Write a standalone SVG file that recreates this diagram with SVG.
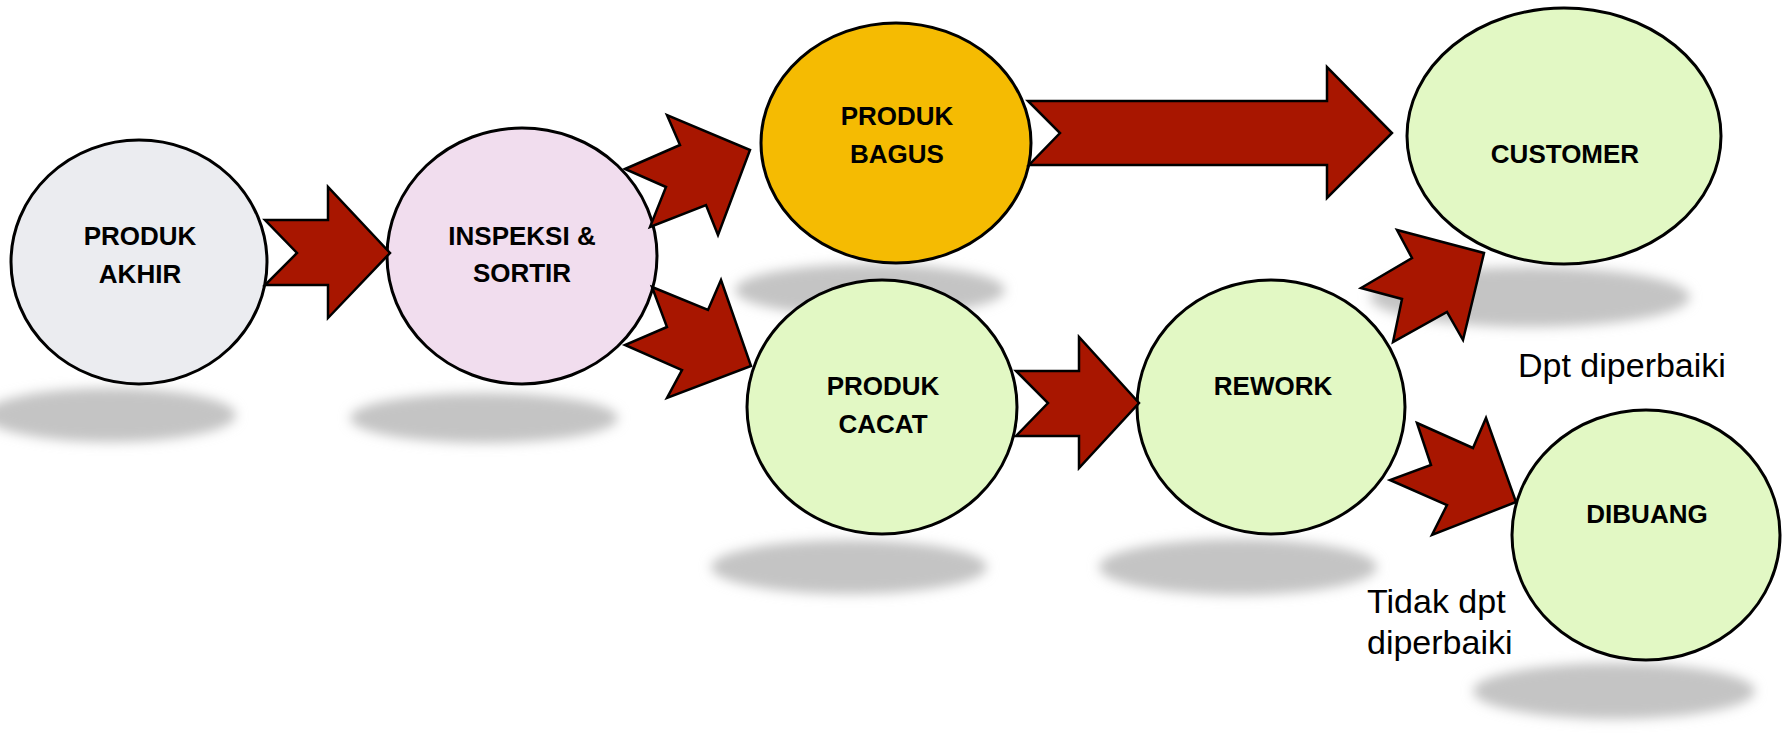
<svg xmlns="http://www.w3.org/2000/svg" width="1782" height="733" viewBox="0 0 1782 733">
  <style>
    .node { stroke: #000; stroke-width: 3; }
    .akhir { fill: #ebecf0; }
    .inspeksi { fill: #f1ddee; }
    .bagus { fill: #f5bb02; }
    .green { fill: #e2f8c4; }
    .label { font-family: "Liberation Sans", Arial, sans-serif; font-weight: bold; font-size: 26px; fill: #000; text-anchor: middle; }
    .note { font-family: "Liberation Sans", Arial, sans-serif; font-size: 34px; fill: #000; }
    .arrow { fill: #a81600; stroke: #000; stroke-width: 2.5; stroke-linejoin: miter; }
    .shadow { fill: #c4c4c4; filter: url(#soft); }
  </style>
  <defs>
    <filter id="soft" x="-20%" y="-50%" width="140%" height="200%">
      <feGaussianBlur stdDeviation="6"/>
    </filter>
  </defs>

  <rect width="1782" height="733" fill="#fff"/>

  <!-- floor shadows under each bubble -->
  <g id="shadows">
    <ellipse class="shadow" cx="110" cy="415" rx="126" ry="27"/>
    <ellipse class="shadow" cx="484" cy="418" rx="134" ry="25"/>
    <ellipse class="shadow" cx="870" cy="290" rx="135" ry="26"/>
    <ellipse class="shadow" cx="849" cy="567" rx="138" ry="27"/>
    <ellipse class="shadow" cx="1238" cy="567" rx="139" ry="28"/>
    <ellipse class="shadow" cx="1530" cy="297" rx="160" ry="30"/>
    <ellipse class="shadow" cx="1614" cy="691" rx="141" ry="28"/>
  </g>

  <g id="node-produk-akhir">
    <ellipse class="node akhir" cx="139" cy="262" rx="128" ry="122"/>
    <text class="label" x="140" y="245">PRODUK</text>
    <text class="label" x="140" y="283">AKHIR</text>
  </g>

  <g id="node-inspeksi">
    <ellipse class="node inspeksi" cx="522" cy="256" rx="135" ry="128"/>
    <text class="label" x="522" y="245">INSPEKSI &amp;</text>
    <text class="label" x="522" y="282">SORTIR</text>
  </g>

  <g id="node-produk-bagus">
    <ellipse class="node bagus" cx="896" cy="143" rx="135" ry="120"/>
    <text class="label" x="897" y="125">PRODUK</text>
    <text class="label" x="897" y="163">BAGUS</text>
  </g>

  <g id="node-produk-cacat">
    <ellipse class="node green" cx="882" cy="407" rx="135" ry="127"/>
    <text class="label" x="883" y="395">PRODUK</text>
    <text class="label" x="883" y="433">CACAT</text>
  </g>

  <g id="node-rework">
    <ellipse class="node green" cx="1271" cy="407" rx="134" ry="127"/>
    <text class="label" x="1273" y="395">REWORK</text>
  </g>

  <g id="node-customer">
    <ellipse class="node green" cx="1564" cy="136" rx="157" ry="128"/>
    <text class="label" x="1565" y="163">CUSTOMER</text>
  </g>

  <g id="node-dibuang">
    <ellipse class="node green" cx="1646" cy="535" rx="134" ry="125"/>
    <text class="label" x="1647" y="523">DIBUANG</text>
  </g>

  <!-- notched block arrows between the bubbles -->
  <g id="connectors">
    <polygon class="arrow" points="265,220 328,220 328,187 390,253 328,318 328,285 265,285 297,253"/>
    <polygon class="arrow" points="625,169 680,145 667,115 750,150 718,235 706,205 650,227 666,187"/>
    <polygon class="arrow" points="652,287 708,310 721,280 751,366 667,398 682,370 625,345 667,327"/>
    <polygon class="arrow" points="1028,101 1327,101 1327,67 1392,133 1327,198 1327,165 1029,165 1060,133"/>
    <polygon class="arrow" points="1016,371 1079,371 1079,337 1139,403 1079,468 1079,436 1016,436 1048,403"/>
    <polygon class="arrow" points="1361,288 1412,258 1397,230 1484,253 1463,340 1447,312 1393,342 1402,299"/>
    <polygon class="arrow" points="1417,423 1473,448 1486,418 1516,502 1432,535 1447,505 1390,480 1431,465"/>
  </g>

  <g id="notes">
    <text class="note" x="1518" y="377">Dpt diperbaiki</text>
    <text class="note" x="1367" y="613">Tidak dpt</text>
    <text class="note" x="1367" y="654">diperbaiki</text>
  </g>
</svg>
